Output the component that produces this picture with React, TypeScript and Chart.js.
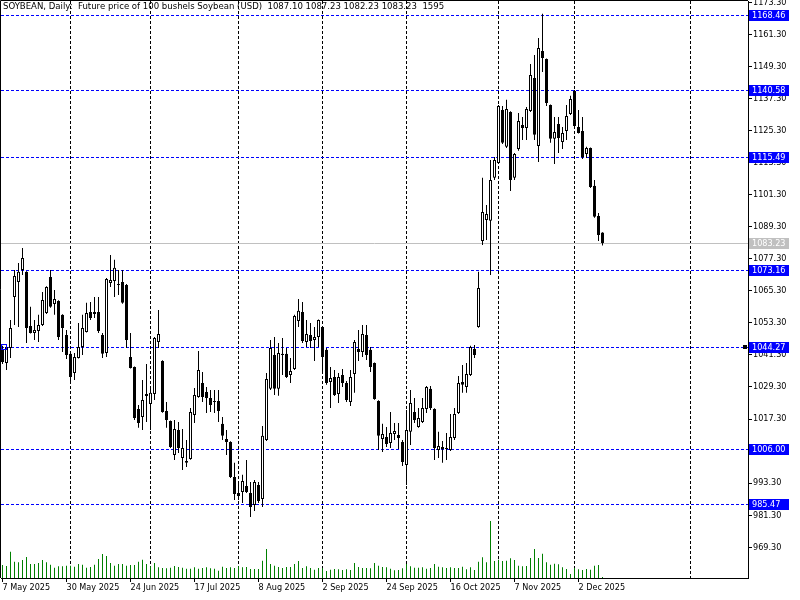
import React, { useEffect, useRef } from 'react';
import { Chart, registerables } from 'chart.js';
Chart.register(...registerables);

const opens = [1043.2,1038.3,1043.9,1063.0,1068.6,1073.1,1072.4,1052.1,1049.5,1050.3,
1052.5,1057.0,1070.5,1060.4,1061.5,1056.3,1048.8,1041.7,1034.5,1040.2,
1044.3,1049.9,1057.4,1056.6,1057.4,1048.8,1042.0,1068.2,1069.0,1067.9,
1068.6,1067.5,1040.5,1036.8,1021.1,1018.1,1025.9,1022.9,1026.7,1046.1,
1039.0,1020.3,1016.6,1003.8,1013.2,1002.7,1001.6,1002.3,1018.8,1025.6,
1030.8,1027.4,1025.2,1024.1,1024.1,1015.5,1009.8,1008.7,995.6,989.6,
990.0,992.2,989.6,985.1,992.6,987.4,1009.5,1028.6,1041.3,1028.6,
1041.7,1041.7,1033.8,1036.0,1054.0,1057.4,1046.1,1048.8,1046.9,1048.0,
1051.8,1043.2,1031.2,1033.0,1026.7,1033.8,1030.8,1023.7,1034.2,1043.5,
1042.4,1048.8,1043.2,1038.3,1024.1,1009.8,1010.6,1008.3,1011.7,1011.3,
1008.7,1000.1,1012.5,1019.9,1014.3,1016.2,1021.1,1028.6,1021.1,1005.7,
1006.1,1006.5,1005.7,1010.2,1019.6,1031.2,1029.3,1033.8,1043.5,1051.8,
1084.0,1091.8,1091.5,1107.6,1113.2,1133.0,1119.2,1132.3,1107.6,1118.4,
1127.4,1126.3,1132.6,1145.0,1119.5,1155.1,1152.1,1134.9,1122.2,1127.8,
1121.0,1125.1,1131.5,1140.1,1126.6,1125.1,1116.5,1118.8,1104.6,1093.3,
1087.1];

const highs = [1044.7,1045.0,1054.4,1073.1,1075.7,1081.3,1072.6,1059.3,1054.4,1056.3,
1064.9,1067.0,1073.1,1065.6,1061.8,1056.5,1050.6,1042.0,1042.0,1053.3,
1056.3,1060.8,1061.1,1063.0,1063.0,1049.5,1070.1,1078.7,1076.9,1073.1,
1073.1,1067.9,1049.5,1037.0,1022.6,1031.9,1037.9,1029.3,1048.0,1058.1,
1039.3,1023.7,1016.8,1016.9,1016.2,1013.6,1009.5,1021.4,1028.9,1042.8,
1034.9,1029.3,1028.2,1028.2,1028.2,1018.1,1013.2,1009.0,1000.9,993.7,
996.4,1002.0,993.7,994.5,993.7,1014.7,1034.5,1046.9,1048.0,1045.8,
1047.6,1043.9,1040.2,1056.3,1062.2,1061.1,1054.4,1053.3,1051.8,1054.6,
1052.0,1043.9,1036.8,1035.7,1034.5,1036.0,1031.5,1035.7,1046.9,1050.6,
1052.5,1052.5,1044.3,1038.5,1024.3,1015.5,1014.3,1019.9,1015.8,1015.8,
1009.5,1020.7,1028.2,1025.2,1021.4,1025.2,1029.7,1029.7,1021.3,1012.5,
1009.1,1012.1,1019.2,1021.4,1033.4,1037.5,1038.3,1044.7,1045.0,1072.4,
1107.6,1097.4,1114.3,1115.4,1134.9,1134.5,1136.8,1132.5,1116.9,1131.9,
1130.4,1134.1,1150.2,1153.6,1160.0,1169.0,1152.3,1135.1,1130.4,1130.4,
1126.6,1134.9,1138.3,1140.5,1133.0,1130.4,1119.2,1119.0,1106.8,1094.4,
1087.23];

const lows = [1037.9,1035.7,1040.2,1052.5,1051.8,1071.2,1045.8,1049.3,1046.9,1046.1,
1052.1,1056.6,1059.0,1056.3,1046.9,1042.4,1039.8,1030.8,1031.9,1040.0,
1041.3,1049.7,1054.4,1055.1,1049.5,1040.2,1040.5,1066.7,1063.0,1063.7,
1060.5,1043.9,1036.2,1016.9,1014.0,1013.2,1016.2,1013.2,1024.4,1043.9,
1019.7,1014.0,1006.5,1002.0,1004.6,998.2,999.3,1002.1,1015.8,1025.3,
1023.7,1019.6,1019.9,1019.6,1016.2,1009.5,1003.8,995.2,987.0,987.0,
985.9,989.6,980.6,982.9,985.9,984.4,1009.1,1028.2,1026.3,1026.0,
1033.8,1032.7,1030.8,1035.7,1051.8,1045.8,1044.3,1043.9,1039.0,1044.3,
1035.3,1030.1,1021.4,1025.9,1023.3,1029.3,1023.7,1022.2,1027.1,1039.0,
1040.5,1039.4,1034.9,1024.5,1005.7,1005.0,1006.8,1006.5,1009.5,1006.1,
999.7,992.6,1007.6,1015.8,1014.0,1015.8,1019.6,1020.7,1002.0,1002.7,
1000.9,1002.0,1005.3,1009.5,1019.2,1027.1,1027.1,1033.4,1040.2,1051.5,
1082.5,1084.3,1071.2,1106.8,1112.9,1120.3,1118.8,1102.7,1106.8,1117.7,
1121.8,1121.8,1132.3,1121.8,1113.5,1147.2,1134.5,1120.7,1112.8,1116.9,
1118.4,1121.8,1131.1,1126.6,1124.2,1114.7,1115.0,1103.8,1092.7,1084.0,
1082.23];

const closes = [1038.7,1044.3,1051.4,1070.9,1072.4,1077.6,1051.4,1049.5,1050.6,1052.5,
1061.9,1066.7,1059.3,1062.2,1048.0,1051.4,1041.3,1033.0,1040.5,1044.3,
1051.4,1057.0,1055.1,1057.4,1050.3,1041.7,1069.7,1069.4,1073.9,1067.5,
1060.8,1046.9,1036.4,1017.7,1015.8,1024.4,1026.7,1027.1,1047.6,1049.1,
1019.9,1016.9,1006.8,1013.6,1006.5,1006.5,1000.9,1019.9,1026.3,1035.7,
1025.6,1025.2,1022.6,1023.7,1020.3,1011.0,1008.7,995.6,989.2,988.5,
994.1,990.0,984.4,993.7,986.6,1011.0,1032.3,1043.9,1028.6,1042.0,
1041.3,1033.0,1035.3,1055.9,1057.8,1046.5,1049.1,1046.5,1048.0,1054.4,
1040.5,1030.8,1032.7,1026.3,1033.0,1030.8,1024.4,1033.0,1046.1,1042.4,
1049.1,1041.3,1036.8,1024.8,1011.0,1011.7,1008.0,1012.1,1012.8,1010.2,
1001.2,1013.2,1023.3,1016.9,1017.7,1021.4,1029.3,1021.4,1006.5,1007.2,
1006.8,1006.1,1010.6,1019.2,1030.8,1030.1,1034.2,1044.3,1041.3,1066.4,
1094.8,1094.1,1106.8,1114.3,1134.5,1120.7,1133.4,1106.8,1116.5,1128.9,
1126.3,1133.4,1146.1,1123.7,1156.2,1152.5,1135.6,1122.2,1124.8,1122.5,
1124.4,1130.8,1137.1,1127.0,1124.4,1115.4,1118.8,1104.2,1093.0,1086.2,
1083.23];

const volumes = [19500,18000,39500,24500,23500,27000,31500,21000,21000,22500,
27000,23500,20000,15500,17500,17500,18500,18500,17000,21000,
20000,15500,16500,20000,28500,36000,33000,22500,18500,21000,
21000,18500,19500,19500,24500,27500,21000,17500,22500,16000,
15000,14500,15500,18000,16500,15500,14000,14000,16000,14000,
15000,16000,14500,14000,11000,17000,15000,16000,15000,17500,
16000,16500,13500,13500,13500,26000,43500,21000,18500,16500,
15000,16500,16500,21000,25500,15000,17500,15000,12500,15000,
14500,10500,12500,13500,13000,12000,13000,12000,22500,16500,
15000,15000,14500,22500,18500,16500,16000,14000,11500,12000,
14500,21000,17500,15500,15500,16000,14000,15000,21000,17000,
16000,15000,16000,15000,15000,17000,13000,16000,12000,24500,
31000,23500,85500,25500,27500,25500,26000,29500,27000,18500,
17500,18000,30000,43500,30000,36500,23500,20000,21500,20500,
16000,13500,6000,15000,13000,12000,13500,12500,18500,19500,
1595];

const dateLabels = ['7 May 2025','30 May 2025','24 Jun 2025','17 Jul 2025','8 Aug 2025','2 Sep 2025','24 Sep 2025','16 Oct 2025','7 Nov 2025','2 Dec 2025'];
const dateLabelIdx = [0,16,32,48,64,80,96,112,128,144];
const monthStartIdx = [17,37,59,80,101,124,143,172];
const priceTicks = [969.3,981.3,993.3,1005.3,1017.3,1029.3,1041.3,1053.3,1065.3,1077.3,1089.3,1101.3,1113.3,1125.3,1137.3,1149.3,1161.3,1173.3];
const levels = [1168.46,1140.58,1115.49,1073.16,1044.27,1006.00,985.47];
const bidPrice = 1083.23;
const alertPrice = 1044.27;
const titleText = 'SOYBEAN, Daily:  Future price of 100 bushels Soybean (USD)  1087.10 1087.23 1082.23 1083.23  1595';

const FONT = '"DejaVu Sans Condensed", "Liberation Sans", sans-serif';

export default function App() {
  const ref = useRef<HTMLCanvasElement>(null);
  useEffect(() => {
    document.body.style.margin = '0';
    const canvas = ref.current!;
    const idx = opens.map((_, i) => i);
    const bodyData = idx.map(i => ({ x: i, y: [opens[i], closes[i]] }));
    const wickData = idx.map(i => ({ x: i, y: [lows[i], highs[i]] }));
    const volData = idx.map(i => ({ x: i, y: volumes[i] }));
    const bodyColors = idx.map(i => (closes[i] >= opens[i] ? '#ffffff' : '#000000'));

    const decor = {
      id: 'decor',
      beforeDatasetsDraw(chart: any) {
        const { ctx, chartArea: a, scales } = chart;
        const xs = scales.x, ys = scales.y;
        ctx.save();
        ctx.lineWidth = 1;
        ctx.strokeStyle = '#000000';
        ctx.setLineDash([3, 2]);
        monthStartIdx.forEach(m => {
          const x = Math.floor(xs.getPixelForValue(m)) + 0.5;
          ctx.beginPath(); ctx.moveTo(x, a.top); ctx.lineTo(x, a.bottom); ctx.stroke();
        });
        ctx.strokeStyle = '#0000ff';
        levels.forEach(l => {
          const y = Math.round(ys.getPixelForValue(l)) + 0.5;
          ctx.beginPath(); ctx.moveTo(a.left, y); ctx.lineTo(a.right, y); ctx.stroke();
        });
        ctx.setLineDash([]);
        ctx.strokeStyle = '#c0c0c0';
        const yb = Math.round(ys.getPixelForValue(bidPrice)) + 0.5;
        ctx.beginPath(); ctx.moveTo(a.left, yb); ctx.lineTo(a.right, yb); ctx.stroke();
        ctx.restore();
      },
      afterDraw(chart: any) {
        const { ctx, chartArea: a, scales } = chart;
        const ys = scales.y;
        ctx.save();
        ctx.strokeStyle = '#000';
        ctx.lineWidth = 1;
        ctx.beginPath();
        ctx.moveTo(0.5, a.bottom); ctx.lineTo(0.5, 0.5); ctx.lineTo(a.right, 0.5);
        ctx.stroke();
        ctx.fillStyle = '#000';
        ctx.font = '9.5px ' + FONT;
        ctx.textBaseline = 'middle';
        ctx.textAlign = 'left';
        ctx.fillText(titleText, 3, 7);
        ctx.font = '9px ' + FONT;
        const box = (p: number, bg: string) => {
          const y = Math.round(ys.getPixelForValue(p));
          ctx.fillStyle = bg;
          ctx.fillRect(749, y - 5, 40, 11);
          ctx.fillStyle = '#ffffff';
          ctx.fillText(p.toFixed(2), 752, y + 0.5);
        };
        box(bidPrice, '#c0c0c0');
        levels.forEach(l => box(l, '#0000ff'));
        const ya = Math.round(ys.getPixelForValue(alertPrice));
        ctx.fillStyle = '#000';
        ctx.fillRect(a.right - 5, ya - 2, 4, 4);
        ctx.strokeStyle = '#0000ff';
        ctx.strokeRect(1.5, ya - 2.5, 5, 5);
        ctx.restore();
      },
    };

    const chart = new Chart(canvas, {
      type: 'bar',
      data: {
        datasets: [
          { data: bodyData as any, backgroundColor: bodyColors, borderColor: '#000000', borderWidth: 1, borderSkipped: false, barThickness: 3, grouped: false, order: 0, minBarLength: 1, inflateAmount: 0, xAxisID: 'x', yAxisID: 'y' } as any,
          { data: wickData as any, backgroundColor: '#000000', borderWidth: 0, barThickness: 1, grouped: false, order: 1, inflateAmount: 0, xAxisID: 'x', yAxisID: 'y' } as any,
          { data: volData as any, backgroundColor: '#008000', borderWidth: 0, barThickness: 1, grouped: false, order: 2, inflateAmount: 0, xAxisID: 'x', yAxisID: 'v' } as any,
        ],
      },
      options: {
        animation: false,
        responsive: false,
        maintainAspectRatio: false,
        layout: { padding: { left: 1, top: 1, right: 0, bottom: 0 } },
        plugins: { legend: { display: false }, tooltip: { enabled: false } },
        scales: {
          x: {
            type: 'linear', min: -0.375, max: 186.375, offset: false,
            afterBuildTicks: (s: any) => { s.ticks = dateLabelIdx.map(v => ({ value: v })); },
            afterFit: (s: any) => { s.height = 22; s.paddingLeft = 0; s.paddingRight = 0; },
            ticks: {
              callback: (v: any) => { const k = dateLabelIdx.indexOf(Number(v)); return k >= 0 ? dateLabels[k] : ''; },
              align: 'start', maxRotation: 0, minRotation: 0, autoSkip: false, color: '#000', padding: 0,
              font: { family: FONT, size: 9 },
            },
            grid: { drawOnChartArea: false, drawTicks: true, tickLength: 4, color: '#000', offset: false },
            border: { display: true, color: '#000', width: 1 },
          } as any,
          y: {
            position: 'right', min: 957.79, max: 1173.81,
            afterBuildTicks: (s: any) => { s.ticks = priceTicks.map(v => ({ value: v })); },
            afterFit: (s: any) => { s.width = 52; s.paddingTop = 0; s.paddingBottom = 0; },
            ticks: { callback: (v: any) => Number(v).toFixed(2), color: '#000', padding: 1, font: { family: FONT, size: 9 } },
            grid: { drawOnChartArea: false, drawTicks: true, tickLength: 4, color: '#000' },
            border: { display: true, color: '#000', width: 1 },
          } as any,
          v: { display: false, min: 0, max: 865500 } as any,
        },
      },
      plugins: [decor],
    });
    return () => chart.destroy();
  }, []);
  return <canvas ref={ref} width={800} height={600} style={{ display: 'block', width: 800, height: 600 }} />;
}
